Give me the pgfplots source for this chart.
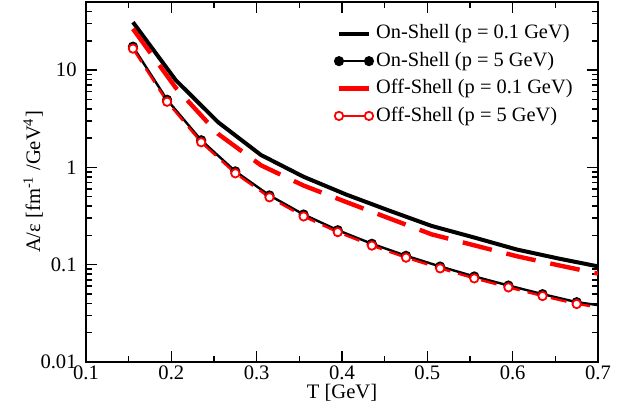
\documentclass[border=0pt]{standalone}
\usepackage{fontspec}
\setmainfont{Liberation Serif}
\usepackage{pgfplots}
\usetikzlibrary{calc}
\pgfplotsset{compat=1.18}
\pgfplotsset{
  legline/.style={legend image code/.code={\draw[##1] (0pt,0pt) -- (15pt,0pt);}},
  legmark/.style={legend image code/.code={\draw[##1, solid] plot coordinates {(0pt,0pt) (15pt,0pt)};}},
}
\begin{document}
\begin{tikzpicture}
\begin{axis}[
  width=256pt, height=180pt, scale only axis,
  xmin=0.1, xmax=0.7, ymin=0.01, ymax=50,
  ymode=log,
  xtick={0.1,0.2,0.3,0.4,0.5,0.6,0.7},
  xticklabels={0.1,0.2,0.3,0.4,0.5,0.6,0.7},
  minor xtick={0.15,0.25,0.35,0.45,0.55,0.65},
  ytick={0.01,0.1,1,10}, yticklabels={0.01,0.1,1,10},
  minor ytick={0.02,0.03,0.04,0.05,0.06,0.07,0.08,0.09,0.2,0.3,0.4,0.5,0.6,0.7,0.8,0.9,2,3,4,5,6,7,8,9,20,30,40},
  tick pos=both, tick align=inside,
  major tick length=5.5pt, minor tick length=3pt,
  axis line style={line width=1pt},
  every tick/.style={black, line width=0.8pt},
  /pgf/number format/assume math mode=true,
  ticklabel style={font=\fontsize{10.3}{11}\selectfont},
  xticklabel style={inner sep=0pt, yshift=-1.5pt},
  yticklabel style={inner sep=0pt, xshift=-4.5pt},
  xlabel={T [GeV]},
  ylabel={A/ε [fm\textsuperscript{-1} /GeV\textsuperscript{4}]},
  label style={font=\fontsize{10.3}{11}\selectfont},
  xlabel style={at={(axis description cs:0.5,-0.086)}, anchor=center},
  ylabel style={at={(axis description cs:-0.1035,0.5)}, anchor=center},
  legend style={draw=none, fill=none, at={(0.957,0.951)}, anchor=north east,
    font=\fontsize{10.2}{11.5}\selectfont, inner sep=0pt, row sep=0pt,
    nodes={inner sep=1.5pt, text height=7.9pt, text depth=2.8pt}},
  legend cell align=left,
]
\addplot[black, line width=2pt, legline]
  coordinates {(0.155,31) (0.205,7.9) (0.255,2.9) (0.305,1.34) (0.355,0.80) (0.405,0.525) (0.455,0.36) (0.505,0.25) (0.555,0.19) (0.605,0.143) (0.655,0.115) (0.7,0.096)};
\addlegendentry{On-Shell (p = 0.1 GeV)}
\addplot[black, line width=1.2pt, mark=*, mark size=1.9pt, mark indices={1,2,3,4,5,6,7,8,9,10,11,12,13,14}, legmark]
  coordinates {(0.155,17.4) (0.195,4.95) (0.235,1.9) (0.275,0.91) (0.315,0.515) (0.355,0.328) (0.395,0.226) (0.435,0.164) (0.475,0.1235) (0.515,0.0958) (0.555,0.0757) (0.595,0.0611) (0.635,0.0498) (0.675,0.0412) (0.7,0.0384)};
\addlegendentry{On-Shell (p = 5 GeV)}
\addplot[red, line width=2.2pt, dash pattern=on 15pt off 7.5pt, legline]
  coordinates {(0.155,26.5) (0.205,6.6) (0.255,2.2) (0.305,1.05) (0.355,0.65) (0.405,0.44) (0.455,0.30) (0.505,0.205) (0.555,0.158) (0.605,0.122) (0.655,0.098) (0.7,0.081)};
\addlegendentry{Off-Shell (p = 0.1 GeV)}
\addplot[red, line width=1.2pt, dash pattern=on 8pt off 4pt, mark=*, mark size=2.1pt,
  mark options={solid, fill=white, draw=red, line width=0.9pt},
  mark indices={1,2,3,4,5,6,7,8,9,10,11,12,13,14}, legmark]
  coordinates {(0.155,16.6) (0.195,4.72) (0.235,1.81) (0.275,0.868) (0.315,0.492) (0.355,0.313) (0.395,0.216) (0.435,0.157) (0.475,0.118) (0.515,0.0916) (0.555,0.0723) (0.595,0.0584) (0.635,0.0476) (0.675,0.0394) (0.7,0.0366)};
\addlegendentry{Off-Shell (p = 5 GeV)}
\end{axis}
\pgfresetboundingbox
\path ($(current axis.south west)+(-43pt,-25pt)$) rectangle ($(current axis.north east)+(15pt,1pt)$);
\end{tikzpicture}
\end{document}
